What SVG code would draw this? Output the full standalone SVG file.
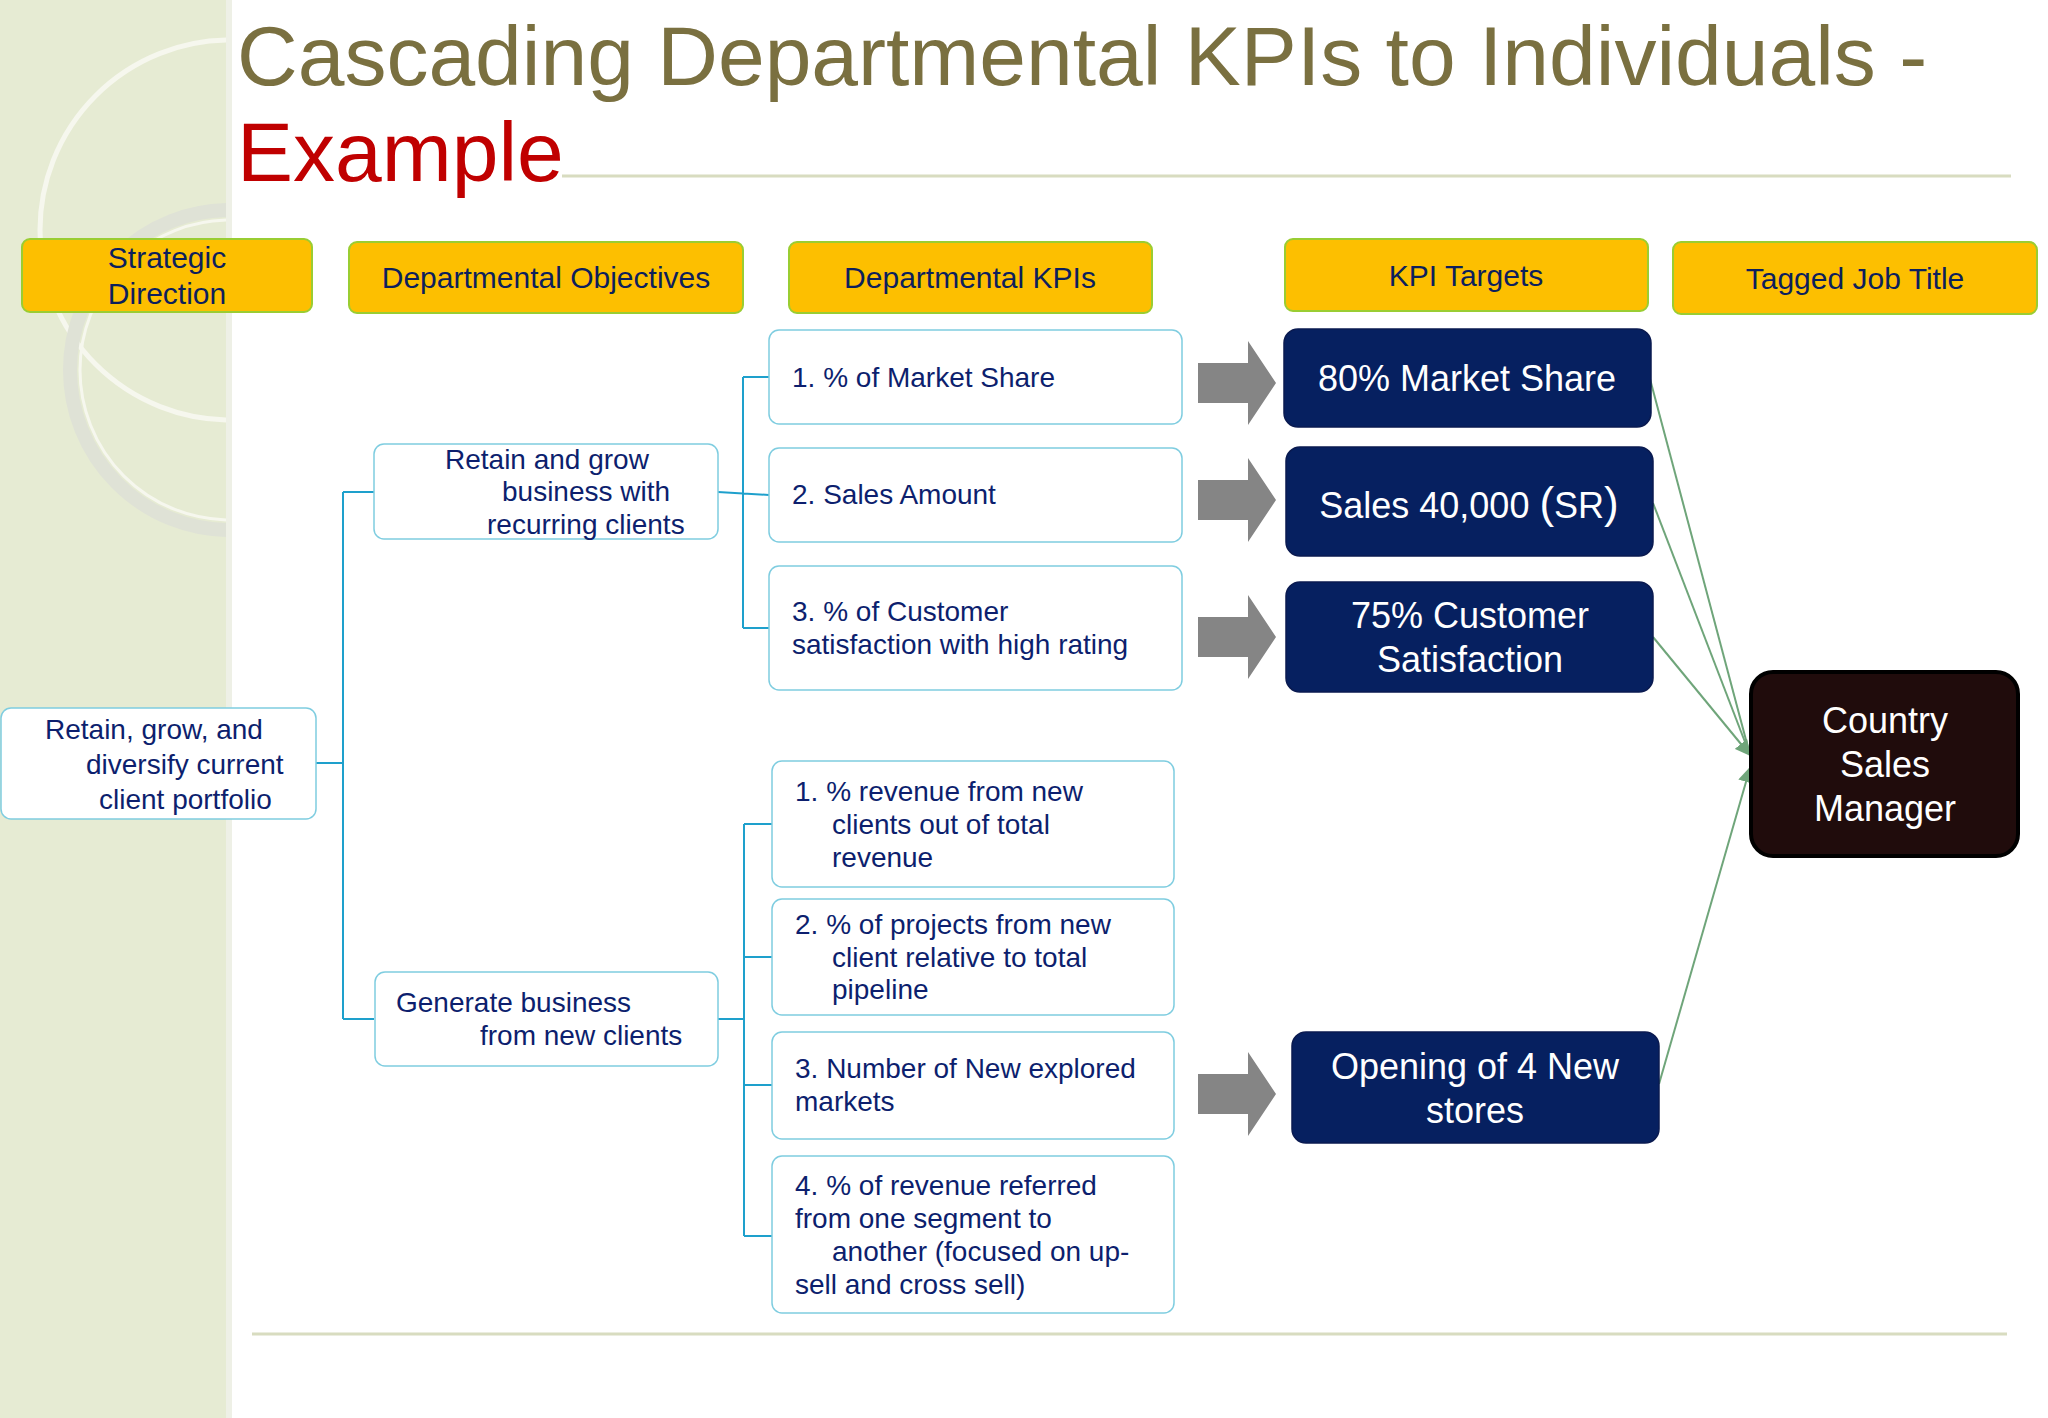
<svg xmlns="http://www.w3.org/2000/svg" width="2048" height="1418" viewBox="0 0 2048 1418">
<defs>
<style>
.hdr{fill:#fdbf00;stroke:#9acd32;stroke-width:2}
.ht{font-family:"Liberation Sans",Arial,sans-serif;font-size:30px;fill:#0d1f5c;text-anchor:middle}
.wb{fill:#fff;stroke:#7fcde0;stroke-width:1.5}
.t{font-family:"Liberation Sans",Arial,sans-serif;font-size:28px;fill:#0d1f6e}
.nb{fill:#062060;stroke:#0a1a50;stroke-width:1.5}
.nt{font-family:"Liberation Sans",Arial,sans-serif;font-size:36px;fill:#fff;text-anchor:middle}
.bl{stroke:#1ea0cc;stroke-width:2;fill:none}
.gl{stroke:#6fa57a;stroke-width:2;fill:none}
.ga{fill:#858585}
</style>
<clipPath id="lp"><rect x="0" y="0" width="226" height="1418"/></clipPath>
<marker id="ah" viewBox="0 0 10 10" refX="9" refY="5" markerWidth="8" markerHeight="8" orient="auto" markerUnits="userSpaceOnUse"><path d="M0,0L10,5L0,10z" fill="#6fa57a"/></marker>
<marker id="ah2" viewBox="0 0 10 10" refX="9" refY="5" markerWidth="16" markerHeight="16" orient="auto" markerUnits="userSpaceOnUse"><path d="M0,0L10,5L0,10z" fill="#6fa57a"/></marker>
</defs>
<rect width="2048" height="1418" fill="#fff"/>
<g id="bg">
<rect x="0" y="0" width="226" height="1418" fill="#e6ebd3"/>
<rect x="226" y="0" width="6" height="1418" fill="#eef0e6"/>
<g clip-path="url(#lp)">
<circle cx="230" cy="230" r="190" fill="none" stroke="#f6f7ee" stroke-width="5"/>
<circle cx="230" cy="370" r="160" fill="none" stroke="#dfe2d6" stroke-width="14"/>
<circle cx="230" cy="370" r="150" fill="none" stroke="#f6f7ee" stroke-width="3"/>
</g>
<line x1="562" y1="176" x2="2011" y2="176" stroke="#d8dcc0" stroke-width="3"/>
<line x1="252" y1="1334" x2="2007" y2="1334" stroke="#d8dcc0" stroke-width="3"/>
<text x="237" y="85" font-family="Liberation Sans,Arial,sans-serif" font-size="84" fill="#7a7040">Cascading Departmental KPIs to Individuals -</text>
<text x="237" y="181" font-family="Liberation Sans,Arial,sans-serif" font-size="84" fill="#c00000">Example</text>
</g>
<g id="h1"><rect class="hdr" x="22" y="239" width="290" height="73" rx="8"/><text class="ht" x="167" y="268">Strategic</text><text class="ht" x="167" y="304">Direction</text></g>
<g id="h2"><rect class="hdr" x="349" y="242" width="394" height="71" rx="8"/><text class="ht" x="546" y="288">Departmental Objectives</text></g>
<g id="h3"><rect class="hdr" x="789" y="242" width="363" height="71" rx="8"/><text class="ht" x="970" y="288">Departmental KPIs</text></g>
<g id="h4"><rect class="hdr" x="1285" y="239" width="363" height="72" rx="8"/><text class="ht" x="1466" y="286">KPI Targets</text></g>
<g id="h5"><rect class="hdr" x="1673" y="242" width="364" height="72" rx="8"/><text class="ht" x="1855" y="289">Tagged Job Title</text></g>
<g id="connectors">
<path class="bl" d="M316,763H343M343,492V1019M343,492H374M343,1019H374"/>
<path class="bl" d="M718,492L769,495M743,377V628M743,377H769M743,628H769"/>
<path class="bl" d="M718,1019H744M744,824V1236M744,824H772M744,957H772M744,1085H772M744,1236H772"/>
<path class="ga" d="M1198,363h50v-22l28,42l-28,42v-22h-50z"/>
<path class="ga" d="M1198,480h50v-22l28,42l-28,42v-22h-50z"/>
<path class="ga" d="M1198,617h50v-22l28,42l-28,42v-22h-50z"/>
<path class="ga" d="M1198,1074h50v-22l28,42l-28,42v-22h-50z"/>
<line class="gl" x1="1650" y1="379" x2="1750" y2="755" marker-end="url(#ah)"/>
<line class="gl" x1="1653" y1="503" x2="1750" y2="755" marker-end="url(#ah)"/>
<line class="gl" x1="1653" y1="637" x2="1750" y2="755" marker-end="url(#ah2)"/>
<line class="gl" x1="1659" y1="1084" x2="1750" y2="768" marker-end="url(#ah2)"/>
</g>
<g id="s1"><rect class="wb" x="1" y="708" width="315" height="111" rx="10"/>
<text class="t" x="45" y="739">Retain, grow, and</text><text class="t" x="86" y="774">diversify current</text><text class="t" x="99" y="809">client portfolio</text></g>
<g id="o1"><rect class="wb" x="374" y="444" width="344" height="95" rx="10"/>
<text class="t" x="445" y="469">Retain and grow</text><text class="t" x="502" y="501">business with</text><text class="t" x="487" y="534">recurring clients</text></g>
<g id="o2"><rect class="wb" x="375" y="972" width="343" height="94" rx="10"/>
<text class="t" x="396" y="1012">Generate business</text><text class="t" x="480" y="1045">from new clients</text></g>
<g id="k1"><rect class="wb" x="769" y="330" width="413" height="94" rx="10"/><text class="t" x="792" y="387">1. % of Market Share</text></g>
<g id="k2"><rect class="wb" x="769" y="448" width="413" height="94" rx="10"/><text class="t" x="792" y="504">2. Sales Amount</text></g>
<g id="k3"><rect class="wb" x="769" y="566" width="413" height="124" rx="10"/><text class="t" x="792" y="621">3. % of Customer</text><text class="t" x="792" y="654">satisfaction with high rating</text></g>
<g id="k4"><rect class="wb" x="772" y="761" width="402" height="126" rx="10"/><text class="t" x="795" y="801">1. % revenue from new</text><text class="t" x="832" y="834">clients out of total</text><text class="t" x="832" y="867">revenue</text></g>
<g id="k5"><rect class="wb" x="772" y="899" width="402" height="116" rx="10"/><text class="t" x="795" y="934">2. % of projects from new</text><text class="t" x="832" y="967">client relative to total</text><text class="t" x="832" y="999">pipeline</text></g>
<g id="k6"><rect class="wb" x="772" y="1032" width="402" height="107" rx="10"/><text class="t" x="795" y="1078">3. Number of New explored</text><text class="t" x="795" y="1111">markets</text></g>
<g id="k7"><rect class="wb" x="772" y="1156" width="402" height="157" rx="10"/><text class="t" x="795" y="1195">4. % of revenue referred</text><text class="t" x="795" y="1228">from one segment to</text><text class="t" x="832" y="1261">another (focused on up-</text><text class="t" x="795" y="1294">sell and cross sell)</text></g>
<g id="t1"><rect class="nb" x="1284" y="329" width="367" height="98" rx="14"/><text class="nt" x="1467" y="391">80% Market Share</text></g>
<g id="t2"><rect class="nb" x="1286" y="447" width="367" height="109" rx="14"/><text class="nt" x="1469" y="518">Sales 40,000 <tspan font-size="44">(</tspan>SR<tspan font-size="44">)</tspan></text></g>
<g id="t3"><rect class="nb" x="1286" y="582" width="367" height="110" rx="14"/><text class="nt" x="1470" y="628">75% Customer</text><text class="nt" x="1470" y="672">Satisfaction</text></g>
<g id="t4"><rect class="nb" x="1292" y="1032" width="367" height="111" rx="14"/><text class="nt" x="1475" y="1079">Opening of 4 New</text><text class="nt" x="1475" y="1123">stores</text></g>
<g id="j1"><rect x="1751" y="672" width="267" height="184" rx="22" fill="#200c0c" stroke="#000" stroke-width="4"/>
<text class="nt" x="1885" y="733">Country</text><text class="nt" x="1885" y="777">Sales</text><text class="nt" x="1885" y="821">Manager</text></g>
</svg>
